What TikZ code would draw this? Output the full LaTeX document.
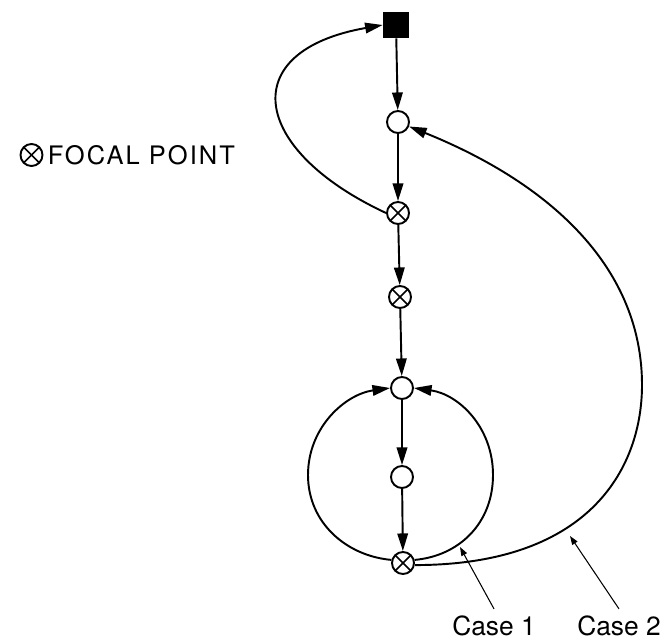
\documentclass[tikz,border=0pt]{standalone}
\usepackage{fontspec}
\setmainfont{TeX Gyre Heros}
\newfontfamily\spacedfont[LetterSpace=8]{TeX Gyre Heros}
\usetikzlibrary{arrows.meta,positioning}

\begin{document}
\begin{tikzpicture}[
  state/.style={circle, draw, line width=1.1pt, minimum size=0.44cm, inner sep=0pt, fill=white},
  focal/.style={state, path picture={
      \draw[line width=0.9pt] (path picture bounding box.north west) -- (path picture bounding box.south east);
      \draw[line width=0.9pt] (path picture bounding box.north east) -- (path picture bounding box.south west);}},
  source/.style={rectangle, fill=black, minimum size=0.52cm, inner sep=0pt},
  flow/.style={-{Triangle[length=10pt,width=6pt]}, line width=1.1pt},
  pointer/.style={-{Triangle[length=5pt,width=3.5pt]}, line width=0.6pt},
  caselabel/.style={font=\fontsize{15}{17}\selectfont, inner sep=1pt, outer sep=3pt}
]
  \useasboundingbox (0,0) rectangle (13.28,12.78);

  % chain of states
  \node[source] (sq) at (7.92,12.28) {};
  \node[state] (c1) at (7.96,10.34) {};
  \node[focal] (f1) at (7.96,8.52) {};
  \node[focal] (f2) at (8.00,6.84) {};
  \node[state] (c2) at (8.04,5.02) {};
  \node[state] (c3) at (8.04,3.24) {};
  \node[focal] (f3) at (8.06,1.52) {};

  \draw[flow] (sq) -- (c1);
  \draw[flow] (c1) -- (f1);
  \draw[flow] (f1) -- (f2);
  \draw[flow] (f2) -- (c2);
  \draw[flow] (c2) -- (c3);
  \draw[flow] (c3) -- (f3);

  % feedback loops
  \draw[flow] (f1.west) .. controls +(155:3) and +(190:3) .. (sq.west);
  \coordinate (ringL) at (6.16,3.28);
  \coordinate (ringR) at (9.86,3.28);
  \draw[flow] (f3.165) .. controls +(175:0.9) and +(-90:0.96) .. (ringL)
    .. controls +(90:0.96) and +(188:0.9) .. (c2.west);
  \draw[flow] (f3.15) .. controls +(5:0.9) and +(-90:0.96) .. (ringR)
    .. controls +(90:0.96) and +(-8:0.9) .. (c2.east);
  \coordinate (turn) at (12.84,5.08);
  \draw[flow] (f3.-10) .. controls +(0:3.58) and +(-90:1.58) .. (turn)
    .. controls +(90:2.28) and +(-22:3.16) .. (c1.-22);

  % legend
  \node[focal] (key) at (0.63,9.68) {};
  \node[right=-1pt of key, font={\spacedfont\fontsize{14.5}{17}\selectfont}] (keytext) {FOCAL POINT};

  % case labels
  \node[caselabel] (lab1) at (9.88,0.26) {Case 1};
  \node[caselabel] (lab2) at (12.38,0.26) {Case 2};
  \coordinate (tip1) at (9.2,1.84);
  \coordinate (tip2) at (11.4,2.06);
  \draw[pointer] (lab1.north) -- (tip1);
  \draw[pointer] (lab2.north) -- (tip2);
\end{tikzpicture}
\end{document}
